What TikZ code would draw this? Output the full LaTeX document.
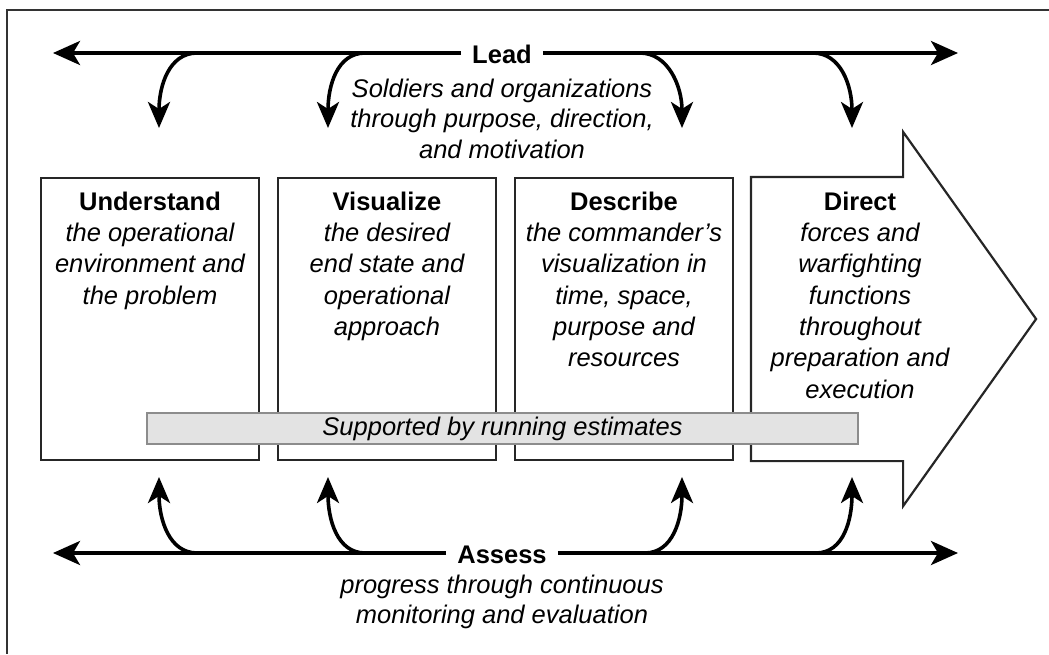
\documentclass[tikz,border=0pt]{standalone}
\usepackage{fontspec}
\setmainfont{Liberation Sans}
\usetikzlibrary{arrows.meta,positioning}

\newcommand{\stagename}[1]{\textup{\textbf{#1}}}

\begin{document}
\begin{tikzpicture}[x=1pt,y=-1pt,
    stage/.style={draw=black!85, line width=2.2pt, minimum width=218pt,
      minimum height=282pt, inner sep=0pt},
    words/.style={align=center, inner sep=0pt,
      font=\fontsize{25.5}{31.3}\selectfont\itshape},
    note/.style={words, font=\fontsize{25.5}{30.5}\selectfont\itshape},
    tag/.style={inner xsep=11pt, inner ysep=0pt, text height=20pt, text depth=0pt,
      font=\fontsize{25.5}{31.3}\selectfont\bfseries},
    bigline/.style={line width=3.6pt, -{Stealth[length=27pt,width=24pt,inset=7pt]}},
    branch/.style={line width=3.6pt, -{Stealth[length=26pt,width=22pt,inset=7pt]}},
    bar/.style={draw=black!45, fill=black!11, line width=1.3pt, minimum width=711pt,
      minimum height=31pt, inner sep=0pt, font=\fontsize{25.5}{31.3}\selectfont\itshape},
  ]
  \useasboundingbox (0,0) rectangle (1049,654);

  % frame
  \draw[line width=1.5pt, black!80] (1049,10) -- (7,10) -- (7,654);

  % the four stages
  \node[stage] (understand) at (150,319) {};
  \node[stage, right=16.8pt of understand] (visualize) {};
  \node[stage, right=16.8pt of visualize] (describe) {};
  \node[stage, draw=none, minimum width=150pt, right=16.8pt of describe] (direct) {};
  \coordinate[right=133pt of direct.east] (tip);
  \draw[draw=black!85, line width=2.2pt, line join=miter]
    (direct.north east) -- ([yshift=45pt]direct.north east) -- (tip)
    -- ([yshift=-45pt]direct.south east) -- (direct.south east)
    -- (direct.south west) -- (direct.north west) -- cycle;

  \node[words, below=14.7pt of understand.north] (understandtxt)
    {\stagename{Understand}\\the operational\\environment and\\the problem};
  \node[words, below=14.7pt of visualize.north] (visualizetxt)
    {\stagename{Visualize}\\the desired\\end state and\\operational\\approach};
  \node[words, below=14.7pt of describe.north] (describetxt)
    {\stagename{Describe}\\the commander’s\\visualization in\\time, space,\\purpose and\\resources};
  \node[words, below=14.7pt of direct.north, xshift=33pt] (directtxt)
    {\stagename{Direct}\\forces and\\warfighting\\functions\\throughout\\preparation and\\execution};

  \node[bar] (estimates) at (502.5,428.5) {Supported by running estimates};

  % lead
  \node[tag] (lead) at (502,53) {Lead};
  \coordinate (leadL) at (53,53);
  \coordinate (leadR) at (958,53);
  \draw[bigline] (lead) -- (leadL);
  \draw[bigline] (lead) -- (leadR);
  \node[note, anchor=north] (leadnote) at (502,78.7)
    {Soldiers and organizations\\through purpose, direction,\\and motivation};
  \foreach \i/\sx/\tx/\dx in {1/197/159/-28, 2/365/328/-28, 3/640/682/28, 4/813/852/28} {
    \coordinate (ls\i) at (\sx,53);
    \coordinate (lt\i) at (\tx,128);
    \draw[branch] (ls\i) .. controls +(\dx,0) and +(0,-42) .. (lt\i);
  }

  % assess
  \node[tag] (assess) at (502,553) {Assess};
  \coordinate (assessL) at (53,553);
  \coordinate (assessR) at (958,553);
  \draw[bigline] (assess) -- (assessL);
  \draw[bigline] (assess) -- (assessR);
  \node[note, anchor=north] (assessnote) at (502,574.7)
    {progress through continuous\\monitoring and evaluation};
  \foreach \i/\sx/\tx/\dx in {1/197/159/-28, 2/365/328/-28, 3/645/682/28, 4/816/852/28} {
    \coordinate (as\i) at (\sx,553);
    \coordinate (at\i) at (\tx,477);
    \draw[branch] (as\i) .. controls +(\dx,0) and +(0,42) .. (at\i);
  }
\end{tikzpicture}
\end{document}
